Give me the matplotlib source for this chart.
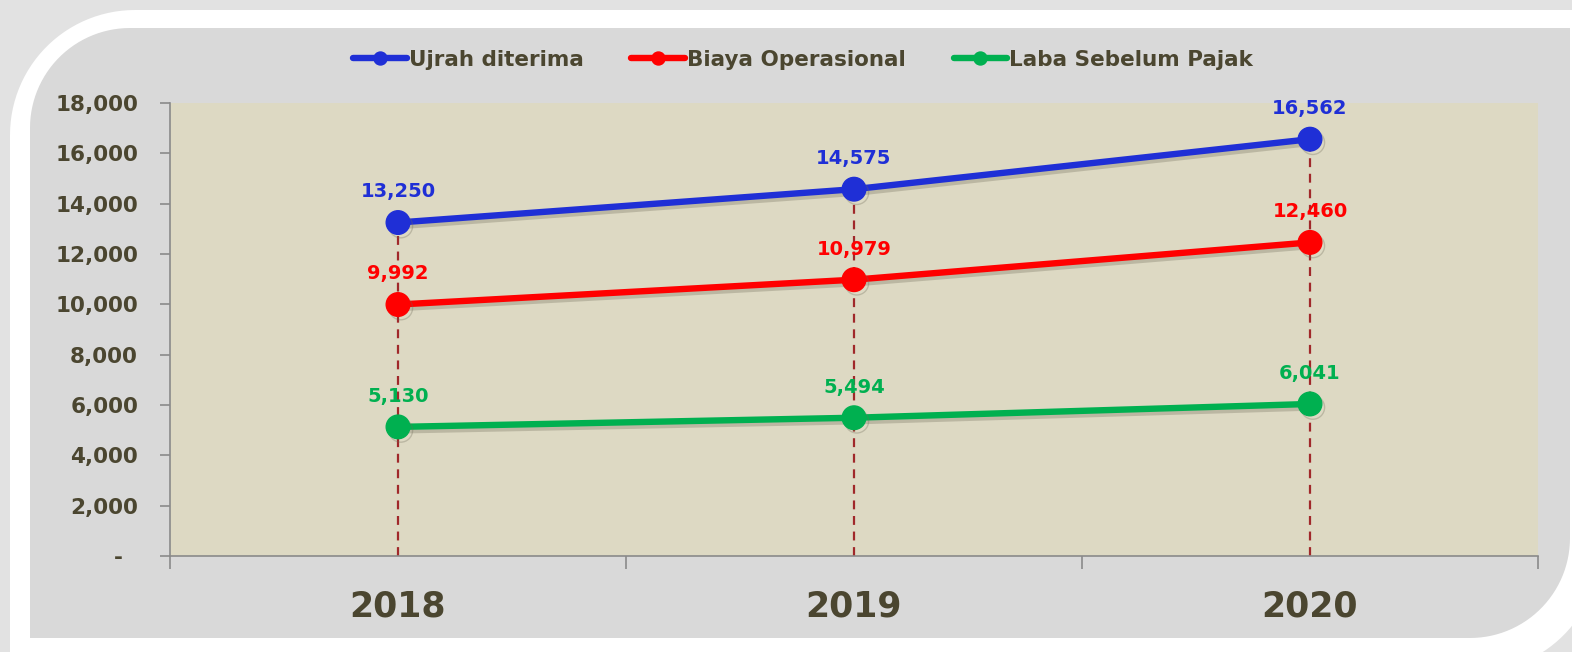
import numpy as np
import matplotlib
matplotlib.use("Agg")
from matplotlib import pyplot as plt
from matplotlib.path import Path
from matplotlib.patches import PathPatch
from matplotlib.ticker import FuncFormatter, FixedLocator
import matplotlib.patheffects as pe

years = ["2018", "2019", "2020"]
ujrah = [13250, 14575, 16562]
biaya = [9992, 10979, 12460]
laba = [5130, 5494, 6041]
series_names = ["Ujrah diterima", "Biaya Operasional", "Laba Sebelum Pajak"]
y_ticks = [0, 2000, 4000, 6000, 8000, 10000, 12000, 14000, 16000, 18000]

W, H = 1572, 652
TEXT = "#4B4630"
COLORS = ["#1F2FD6", "#FF0000", "#00B050"]


def diag_round_rect(x0, y0, x1, y1, r, n=30):
    # rectangle with rounded top-left and bottom-right corners (pixel coords)
    pts = []
    t = np.linspace(np.pi, np.pi / 2, n)
    pts += list(zip(x0 + r + r * np.cos(t), y1 - r + r * np.sin(t)))
    pts.append((x1, y1))
    t = np.linspace(0, -np.pi / 2, n)
    pts += list(zip(x1 - r + r * np.cos(t), y0 + r + r * np.sin(t)))
    pts.append((x0, y0))
    pts.append(pts[0])
    pts = np.array(pts) / np.array([W, H])
    return Path(pts, closed=True)


def label_fmt(v, pos):
    if v == 0:
        return "-  "
    return "{:,.0f}".format(v)


def main():
    fig = plt.figure(figsize=(W / 100, H / 100), dpi=100)
    fig.patch.set_facecolor("#E2E2E2")

    # frame: white rounded border then grey panel
    fig.patches.append(PathPatch(diag_round_rect(10, -20, 1600, 642, 125),
                                 transform=fig.transFigure, facecolor="white",
                                 edgecolor="none", zorder=-2))
    fig.patches.append(PathPatch(diag_round_rect(30, 14, 1570, 624, 100),
                                 transform=fig.transFigure, facecolor="#D9D9D9",
                                 edgecolor="none", zorder=-1))

    ax = fig.add_axes([170 / W, 1 - 556 / H, (1538 - 170) / W, (556 - 103) / H])
    ax.set_facecolor("#DDD9C3")

    x = np.arange(len(years))
    shadow = [pe.SimpleLineShadow(offset=(2, -2.5), shadow_color="#6E6A58", alpha=0.3),
              pe.Normal()]

    ax.vlines(x, 0, ujrah, colors="#A0282A", linestyles=(0, (4, 3)), lw=1.6, zorder=2)

    for vals, name, col in zip([ujrah, biaya, laba], series_names, COLORS):
        ax.plot(x, vals, color=col, lw=4.6, marker="o", markersize=17,
                label=name, solid_capstyle="round", path_effects=shadow, zorder=3)
        for xi, v in zip(x, vals):
            ax.annotate("{:,}".format(v), (xi, v), xytext=(0, 22),
                        textcoords="offset points", ha="center", va="center",
                        color=col, fontsize=14, fontweight="bold", zorder=4)

    ax.set_xlim(-0.5, len(years) - 0.5)
    ax.set_ylim(0, 18000)
    ax.yaxis.set_major_locator(FixedLocator(y_ticks))
    ax.yaxis.set_major_formatter(FuncFormatter(label_fmt))
    ax.set_xticks(x)
    ax.set_xticklabels(years)
    ax.set_xticks(np.arange(len(years) + 1) - 0.5, minor=True)

    for s in ["top", "right"]:
        ax.spines[s].set_visible(False)
    for s in ["left", "bottom"]:
        ax.spines[s].set_color("#8A8A8A")
        ax.spines[s].set_linewidth(1.2)

    ax.tick_params(axis="y", length=7, width=1.2, color="#8A8A8A", pad=16,
                   labelsize=15.5, labelcolor=TEXT)
    ax.tick_params(axis="x", which="major", length=0, pad=24,
                   labelsize=25, labelcolor=TEXT)
    ax.tick_params(axis="x", which="minor", length=9, width=1.2, color="#8A8A8A")
    for lab in ax.get_yticklabels() + ax.get_xticklabels():
        lab.set_fontweight("bold")

    leg = fig.legend(loc="center", bbox_to_anchor=(0.511, 1 - 60 / H), ncol=3,
                     frameon=False, handlelength=2.5, handletextpad=0.1,
                     columnspacing=2.2, markerscale=0.55,
                     prop={"size": 15.5, "weight": "bold"})
    for t in leg.get_texts():
        t.set_color(TEXT)
    for h in leg.legend_handles:
        h.set_path_effects([])

    fig.savefig("out.png", dpi=100, facecolor=fig.get_facecolor())


if __name__ == "__main__":
    main()
